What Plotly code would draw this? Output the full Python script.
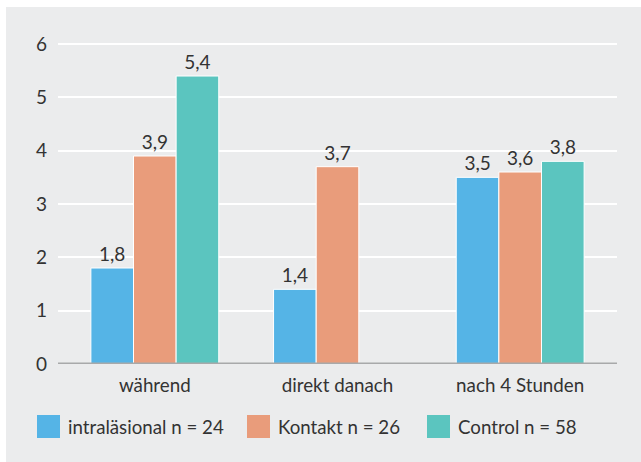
import plotly.graph_objects as go

categories = ["während", "direkt danach", "nach 4 Stunden"]
series_names = ["intraläsional n = 24", "Kontakt n = 26", "Control n = 58"]
intralaesional = [1.8, 1.4, 3.5]
kontakt = [3.9, 3.7, 3.6]
control = [5.4, None, 3.8]
series_values = [intralaesional, kontakt, control]
colors = ["#55b4e6", "#e99c7b", "#5bc5bf"]
y_ticks = [0, 1, 2, 3, 4, 5, 6]

FONT = "Lato"
TXT = "#333333"
W, H = 641, 462
ML, MR, MT, MB = 58, 24, 20, 98
pw, ph = W - ML - MR, H - MT - MB

fig = go.Figure()
for name, vals, col in zip(series_names, series_values, colors):
    fig.add_trace(go.Bar(
        x=categories, y=vals, name=name,
        marker=dict(color=col, line=dict(color="white", width=1)),
        texttemplate="%{y:.1f}", textposition="outside",
        textfont=dict(family=FONT, size=19, color=TXT),
        cliponaxis=False, showlegend=False,
    ))

def px_x(p):
    return (p - ML) / pw

def px_y(p):
    return (H - MB - p) / ph

shapes = [dict(type="rect", xref="paper", yref="paper",
               x0=px_x(6), x1=px_x(W + 2), y0=px_y(7), y1=px_y(H + 2),
               fillcolor="#ebeced", line=dict(width=0), layer="below"),
          dict(type="line", xref="paper", yref="y", x0=0, x1=1, y0=0, y1=0,
               line=dict(color="#a8a9aa", width=3), layer="above")]
annotations = []
leg_x = [37, 247, 427]
for i, (name, col) in enumerate(zip(series_names, colors)):
    x0 = leg_x[i]
    shapes.append(dict(type="rect", xref="paper", yref="paper",
                       x0=px_x(x0), x1=px_x(x0 + 23), y0=px_y(438), y1=px_y(415),
                       fillcolor=col, line=dict(width=0)))
    annotations.append(dict(xref="paper", yref="paper", x=px_x(x0 + 29), y=px_y(426.5),
                            text=name, showarrow=False, xanchor="left", yanchor="middle",
                            font=dict(family=FONT, size=18.7, color=TXT)))

fig.update_layout(
    width=W, height=H,
    margin=dict(l=ML, r=MR, t=MT, b=MB, pad=0),
    paper_bgcolor="white", plot_bgcolor="rgba(0,0,0,0)",
    barmode="group", bargap=0.3, bargroupgap=0,
    separators=",.",
    font=dict(family=FONT, size=17, color=TXT),
    shapes=shapes, annotations=annotations,
    showlegend=False,
    xaxis=dict(range=[-0.53, 2.53], showgrid=False, zeroline=False, showline=False,
               ticks="outside", ticklen=4, tickcolor="rgba(0,0,0,0)",
               tickfont=dict(family=FONT, size=18.8, color=TXT)),
    yaxis=dict(range=[0, ph / 53.33], tickvals=y_ticks, showgrid=True, gridcolor="white",
               gridwidth=2, zeroline=False,
               ticks="", ticklabelstandoff=10, tickfont=dict(family=FONT, size=19, color=TXT)),
)

fig.write_html("out.html", config={"displayModeBar": False},
               post_script="document.body.style.margin='0';document.body.style.overflow='hidden';")
